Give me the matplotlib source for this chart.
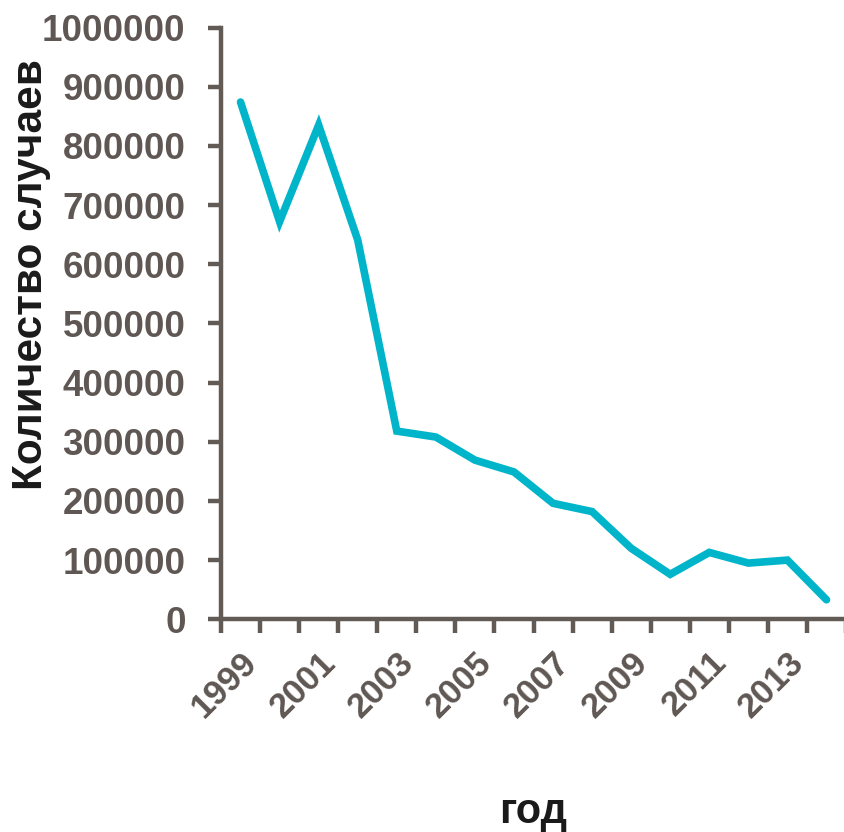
import matplotlib
matplotlib.use("Agg")
import matplotlib.pyplot as plt
import numpy as np

years = list(range(1999, 2015))
cases = [874000, 672000, 835000, 641000, 318000, 308000, 269000, 249000,
         196000, 182000, 120000, 76000, 113000, 95000, 100000, 33000]
ytick_values = [0, 100000, 200000, 300000, 400000, 500000, 600000, 700000, 800000, 900000, 1000000]
xtick_labels = ["1999", "2001", "2003", "2005", "2007", "2009", "2011", "2013"]

plt.rcParams['font.family'] = ['Liberation Sans', 'DejaVu Sans']

axis_col = "#625a55"
tick_col = "#5f5753"
line_col = "#00b5c9"

fig = plt.figure(figsize=(8.44, 8.32), dpi=100)
ax = fig.add_axes([221/844, 1 - 619.3/832, (846 - 221)/844, (619.3 - 27.5)/832])

x = np.arange(len(years))
ax.plot(x, cases, color=line_col, lw=5.5, solid_joinstyle='miter', solid_capstyle='round')

ax.set_xlim(-0.5, len(years) - 0.5)
ax.set_ylim(0, 1000000)

for s in ['top', 'right']:
    ax.spines[s].set_visible(False)
for s in ['left', 'bottom']:
    ax.spines[s].set_color(axis_col)
    ax.spines[s].set_linewidth(3.2)

ax.set_yticks(ytick_values)
ax.set_yticklabels([str(v) for v in ytick_values], fontsize=26.5, fontweight='bold', color=tick_col)
ax.tick_params(axis='y', direction='out', length=9.5, width=3.2, color=axis_col, pad=16)

ax.set_xticks(x[::2])
ax.set_xticklabels(xtick_labels, fontsize=25, fontweight='bold', color=tick_col,
                   rotation=45, ha='right', va='top', rotation_mode='anchor')
ax.tick_params(axis='x', which='major', length=0, pad=19)
ax.set_xticks(np.arange(-0.5, len(years)), minor=True)
ax.tick_params(axis='x', which='minor', direction='out', length=10, width=3.2, color=axis_col)

fig.text(0.037, 1 - 275/832, "Количество случаев", rotation=90, fontsize=30.5, fontweight='bold',
         color="#1a1a1a", ha='center', va='center')
fig.text(533/844, 1 - 812/832, "год", fontsize=30, fontweight='bold', color="#1a1a1a",
         ha='center', va='center')

fig.savefig("out.png", dpi=100)
